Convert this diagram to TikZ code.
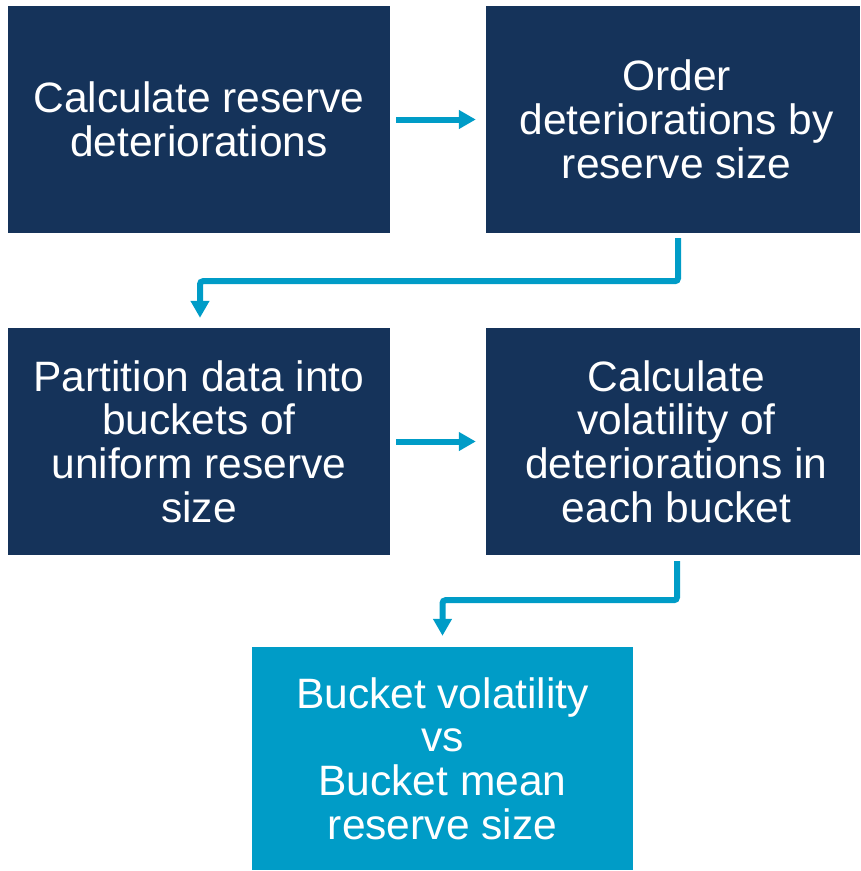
\documentclass[tikz,border=0pt]{standalone}
\usepackage{fontspec}
\setmainfont{Liberation Sans}
\usetikzlibrary{arrows.meta,calc}
\definecolor{navy}{HTML}{15335A}
\definecolor{teal}{HTML}{009CC7}
\tikzset{
  txt/.style={text=white, inner sep=0pt, align=center, font=\fontsize{42.5pt}{43.7pt}\selectfont},
  box/.style={txt, fill=navy, minimum width=382pt, minimum height=227pt},
  lbox/.style={box, fill=teal, minimum width=381pt, minimum height=223pt},
  arr/.style={draw=teal, line width=6pt, rounded corners=3pt,
    -{Triangle[width=18pt,length=17pt]}}
}
\begin{document}
\begin{tikzpicture}[x=1pt,y=1pt]
\useasboundingbox (0,0) rectangle (861,-871);
\node[box] (b1) at (199,-119.5) {Calculate reserve\\deteriorations};
\node[box, minimum width=374pt] (b2) at (673,-119.5) {};
\node[txt] (t2) at (676.5,-119.5) {Order\\deteriorations by\\reserve size};
\node[box] (b3) at (199,-441.5) {Partition data into\\buckets of\\uniform reserve\\size};
\node[box, minimum width=374pt] (b4) at (673,-441.5) {};
\node[txt] (t4) at (676.5,-441.5) {Calculate\\volatility of\\deteriorations in\\each bucket};
\node[lbox] (b5) at (442.5,-758.5) {Bucket volatility\\vs\\Bucket mean\\reserve size};
\draw[arr, rounded corners=0pt] ([xshift=6pt]b1.east) -- ([xshift=-10pt]b2.west);
\draw[arr, rounded corners=0pt] ([xshift=6pt]b3.east) -- ([xshift=-10pt]b4.west);
\draw[arr] ([xshift=5pt,yshift=-5pt]b2.south) -- ++(0,-43) -| ([xshift=1pt,yshift=10pt]b3.north);
\draw[arr] ([xshift=4pt,yshift=-6pt]b4.south) -- ++(0,-39) -| ([yshift=11pt]b5.north);
\end{tikzpicture}
\end{document}
